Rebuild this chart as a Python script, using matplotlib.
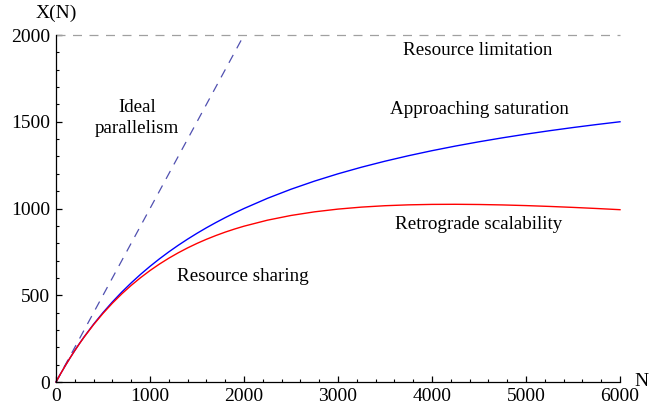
import matplotlib
matplotlib.use("Agg")
import matplotlib.pyplot as plt
from matplotlib.ticker import MultipleLocator

# Data
n_vals = [0, 50, 100, 150, 200, 250, 300, 400, 500, 600, 700, 800, 900, 1000, 1100,
          1200, 1300, 1400, 1500, 1600, 1700, 1800, 1900, 2000, 2250, 2500, 2750,
          3000, 3250, 3500, 3750, 4000, 4250, 4500, 4750, 5000, 5250, 5500, 5750, 6000]
x_saturation = [0, 48.8, 95.2, 139.5, 181.8, 222.2, 260.9, 333.3, 400.0, 461.5, 518.5,
                571.4, 620.7, 666.7, 709.7, 750.0, 787.9, 823.5, 857.1, 888.9, 918.9,
                947.4, 974.4, 1000.0, 1058.8, 1111.1, 1157.9, 1200.0, 1238.1, 1272.7,
                1304.3, 1333.3, 1360.0, 1384.6, 1407.4, 1428.6, 1448.3, 1466.7, 1483.9,
                1500.0]
x_retrograde = [0, 48.8, 95.2, 139.4, 181.4, 221.5, 259.7, 330.8, 395.5, 454.4, 508.1,
                557.0, 601.6, 642.4, 679.6, 713.6, 744.6, 773.0, 798.9, 822.5, 844.1,
                863.9, 881.8, 898.1, 932.8, 959.9, 980.8, 996.6, 1008.1, 1016.1,
                1021.1, 1023.7, 1024.3, 1023.1, 1020.6, 1016.8, 1012.0, 1006.4, 1000.1,
                993.2]
ideal_n = [0, 2000]
ideal_x = [0, 2000]
limit_n = [0, 6000]
limit_x = [2000, 2000]

labels = ["Resource limitation", "Approaching saturation", "Ideal\nparallelism",
          "Retrograde scalability", "Resource sharing"]
label_pos_n = [4490, 4500, 860, 4500, 1990]
label_pos_x = [1913, 1568, 1522, 905, 611]

plt.rcParams['font.family'] = ['Liberation Serif', 'DejaVu Serif']

fig = plt.figure(figsize=(6.49, 4.08), dpi=100)
ax = fig.add_axes([0.0863, 0.0637, 0.8690, 0.8505])

ax.plot(limit_n, limit_x, color='#a0a0a0', lw=0.9, dashes=(7.2, 6.0), clip_on=False)
ax.plot(ideal_n, ideal_x, color='#5050b0', lw=0.9, dashes=(7.2, 6.0), clip_on=False)
ax.plot(n_vals, x_saturation, color='#0000ff', lw=1.0, clip_on=False)
ax.plot(n_vals, x_retrograde, color='#ff0000', lw=1.0, clip_on=False)

for t, xn, xx in zip(labels, label_pos_n, label_pos_x):
    ax.text(xn, xx, t, ha='center', va='center', fontsize=13.7, linespacing=1.25)

ax.set_xlim(0, 6000)
ax.set_ylim(0, 2000)
ax.xaxis.set_major_locator(MultipleLocator(1000))
ax.xaxis.set_minor_locator(MultipleLocator(200))
ax.yaxis.set_major_locator(MultipleLocator(500))
ax.yaxis.set_minor_locator(MultipleLocator(100))
ax.tick_params(which='major', direction='in', length=4, width=0.9, labelsize=14, pad=4)
ax.tick_params(which='minor', direction='in', length=2.3, width=0.8)
for s in ['top', 'right']:
    ax.spines[s].set_visible(False)
for s in ['left', 'bottom']:
    ax.spines[s].set_linewidth(0.9)

fig.text(56/649, 1 - 13/408, "X(N)", ha='center', va='center', fontsize=14)
fig.text(641/649, 1 - 382/408, "N", ha='center', va='center', fontsize=14)

fig.savefig("out.png", dpi=100)
